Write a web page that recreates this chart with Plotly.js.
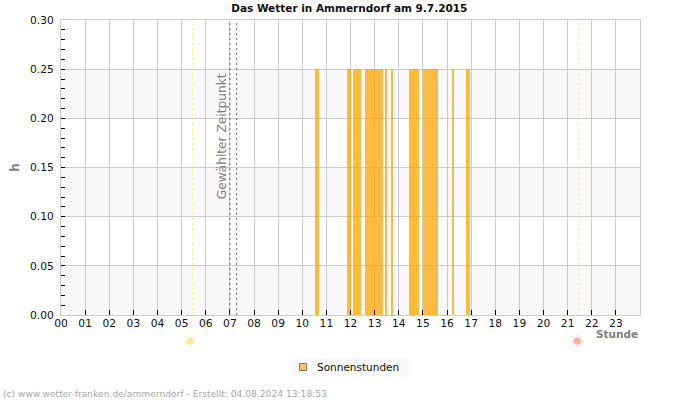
<!DOCTYPE html>
<html>
<head>
<meta charset="utf-8">
<script src="https://cdn.plot.ly/plotly-3.0.1.min.js"></script>
<style>html,body{margin:0;padding:0;background:#fff}#chart{width:700px;height:400px}</style>
</head>
<body>
<div id="chart"></div>
<script>
// Sunshine intervals for the day, in decimal hours
const sunStart = [10.52, 11.85, 12.10, 12.60, 13.42, 13.67, 14.42, 15.02, 16.19, 16.80];
const sunEnd   = [10.69, 12.02, 12.43, 13.34, 13.50, 13.75, 14.84, 15.62, 16.28, 16.97];
const sunValue = [0.25, 0.25, 0.25, 0.25, 0.25, 0.25, 0.25, 0.25, 0.25, 0.25];

const hourTicks = [...Array(24).keys()];
const hourLabels = ['00','01','02','03','04','05','06','07','08','09','10','11','12','13','14','15','16','17','18','19','20','21','22','23'];
const yTicks = [0, 0.05, 0.10, 0.15, 0.20, 0.25, 0.30];
const yLabels = ['0.00','0.05','0.10','0.15','0.20','0.25','0.30'];
const shadedBands = [[0, 0.05], [0.10, 0.15], [0.20, 0.25]];

const sunrise = 5.45;
const sunset = 21.46;
const selectedTimes = [7.0, 7.28];

const FONT = 'DejaVu Sans, sans-serif';
const W = 700, H = 400;
const M = {l: 60.5, r: 59.5, t: 20, b: 85};

// Page pixels to paper fractions, for items placed outside the plot area
const px = v => (v - M.l) / (W - M.l - M.r);
const py = v => (H - M.b - v) / (H - M.t - M.b);

function vline(x, color) {
  return {type: 'line', xref: 'x', yref: 'paper', x0: x, x1: x, y0: 0, y1: 1, layer: 'above',
          line: {color: color, width: 1, dash: '2px,3px'}};
}

// Small sun symbol under the axis: pale rays around a disc
function sunIcon(hour, rayColor, discColor) {
  const yAnchor = py(341);
  const base = {xref: 'x', yref: 'paper', xsizemode: 'pixel', ysizemode: 'pixel', xanchor: hour, yanchor: yAnchor};
  const rays = [];
  for (let k = 0; k < 8; k++) {
    const a = k * Math.PI / 4, c = Math.cos(a), s = Math.sin(a);
    rays.push({...base, type: 'line', x0: 3 * c, x1: 6.5 * c, y0: 3 * s, y1: 6.5 * s, line: {color: rayColor, width: 1}});
  }
  return [...rays, {...base, type: 'circle', x0: -3.5, x1: 3.5, y0: -3.5, y1: 3.5, fillcolor: discColor, line: {width: 0}}];
}

const shapes = [
  ...shadedBands.map(b => ({type: 'rect', xref: 'paper', yref: 'y', x0: 0, x1: 1, y0: b[0], y1: b[1],
                            layer: 'below', line: {width: 0}, fillcolor: '#f9f9f9'})),
  vline(sunrise, '#f6f06a'),
  vline(sunset, '#f3d8a8'),
  ...selectedTimes.map(t => vline(t, '#666666')),
  ...sunIcon(sunrise - 0.1, '#fbe8b0', '#fde49a'),
  ...sunIcon(sunset - 0.06, '#ffcfc2', '#ffb09e'),
  // Legend box and swatch
  {type: 'rect', xref: 'paper', yref: 'paper', x0: px(292), x1: px(409), y0: py(377), y1: py(358),
   line: {width: 0}, fillcolor: '#f9f9f9'},
  {type: 'rect', xref: 'paper', yref: 'paper', x0: px(299.5), x1: px(306.5), y0: py(370.5), y1: py(363.5),
   line: {color: '#777777', width: 1}, fillcolor: '#ffc56c'}
];

const traces = [
  {
    type: 'bar', name: 'Sonnenstunden', showlegend: false, hoverinfo: 'skip',
    x: sunStart.map((s, i) => (s + sunEnd[i]) / 2),
    width: sunStart.map((s, i) => sunEnd[i] - s),
    y: sunValue,
    marker: {color: 'rgba(255,165,0,0.75)', line: {width: 0}}
  }
];

const layout = {
  width: W, height: H,
  margin: M,
  paper_bgcolor: '#ffffff', plot_bgcolor: '#ffffff',
  font: {family: FONT, size: 10.5, color: '#111111'},
  title: {text: '<b>Das Wetter in Ammerndorf am 9.7.2015</b>', x: 0.499, xanchor: 'center', y: 0.978, yanchor: 'middle',
          font: {family: FONT, size: 10.5, color: '#111111'}},
  bargap: 0,
  xaxis: {
    range: [0, 24], tickmode: 'array', tickvals: hourTicks, ticktext: hourLabels,
    ticks: 'inside', ticklen: 5, tickcolor: '#000000', tickwidth: 1, ticklabelstandoff: -2,
    showgrid: true, gridcolor: '#cccccc', gridwidth: 1, zeroline: false,
    showline: true, linecolor: '#cccccc', mirror: true,
    tickfont: {family: FONT, size: 10.7, color: '#111111'}, fixedrange: true
  },
  yaxis: {
    range: [0, 0.30], tickmode: 'array', tickvals: yTicks, ticktext: yLabels,
    ticks: 'inside', ticklen: 4, tickcolor: '#000000', tickwidth: 1, ticklabelstandoff: 4,
    showgrid: true, gridcolor: '#cccccc', gridwidth: 1, zeroline: false,
    showline: true, linecolor: '#cccccc', mirror: true,
    tickfont: {family: FONT, size: 10.7, color: '#111111'}, fixedrange: true,
    minor: {dtick: 0.01, ticks: 'inside', ticklen: 4, tickcolor: '#000000', showgrid: false},
    title: {text: '<b>h</b>', standoff: 7, font: {family: FONT, size: 12, color: '#808080'}}
  },
  showlegend: false,
  shapes: shapes,
  annotations: [
    {text: 'Gewählter Zeitpunkt', xref: 'x', yref: 'y', x: 6.66, y: 0.1815, yanchor: 'middle', xanchor: 'center',
     textangle: -90, showarrow: false, font: {family: FONT, size: 12.2, color: '#808080'}},
    {text: '<b>Stunde</b>', xref: 'paper', yref: 'paper', x: px(641), xanchor: 'right', y: py(334), yanchor: 'middle',
     showarrow: false, font: {family: FONT, size: 10.5, color: '#808080'}},
    {text: 'Sonnenstunden', xref: 'paper', yref: 'paper', x: px(316), xanchor: 'left', xshift: -1, y: py(367), yanchor: 'middle',
     showarrow: false, font: {family: FONT, size: 10.5, color: '#111111'}},
    {text: '(c) www.wetter-franken.de/ammerndorf - Erstellt: 04.08.2024 13:18:53', xref: 'paper', yref: 'paper',
     x: px(1), xanchor: 'left', xshift: -1, y: py(393.5), yanchor: 'middle', showarrow: false,
     font: {family: FONT, size: 9.15, color: '#a8a8a8'}}
  ]
};

Plotly.newPlot('chart', traces, layout, {displayModeBar: false, staticPlot: true});
</script>
</body>
</html>
